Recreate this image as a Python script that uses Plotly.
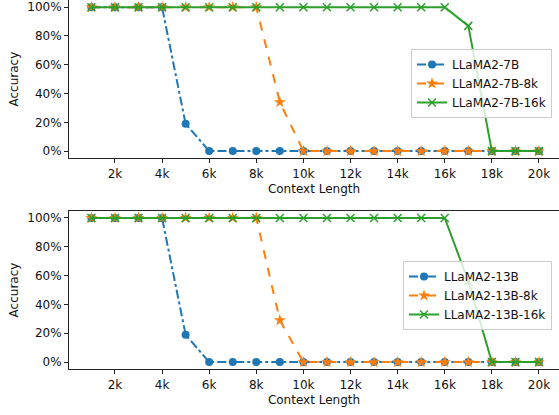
import plotly.graph_objects as go

context_k = list(range(1, 21))
context = [k * 1000 for k in context_k]

acc_7b = [100, 100, 100, 100, 19] + [0] * 15
acc_7b_8k = [100] * 8 + [34] + [0] * 11
acc_7b_16k = [100] * 16 + [87] + [0] * 3

acc_13b = [100, 100, 100, 100, 19] + [0] * 15
acc_13b_8k = [100] * 8 + [29] + [0] * 11
acc_13b_16k = [100] * 16 + [56] + [0] * 3

x_tick_vals = [2000, 4000, 6000, 8000, 10000, 12000, 14000, 16000, 18000, 20000]
x_tick_text = ["2k", "4k", "6k", "8k", "10k", "12k", "14k", "16k", "18k", "20k"]
y_tick_vals = [0, 20, 40, 60, 80, 100]
y_tick_text = ["0%", "20%", "40%", "60%", "80%", "100%"]

BLUE, ORANGE, GREEN = "#1f77b4", "#ff7f0e", "#2ca02c"
FONT = "DejaVu Sans"

series_top = [("LLaMA2-7B", acc_7b), ("LLaMA2-7B-8k", acc_7b_8k), ("LLaMA2-7B-16k", acc_7b_16k)]
series_bot = [("LLaMA2-13B", acc_13b), ("LLaMA2-13B-8k", acc_13b_8k), ("LLaMA2-13B-16k", acc_13b_16k)]
styles = [
    dict(color=BLUE, dash="dashdot", marker=dict(symbol="circle", size=8, color=BLUE)),
    dict(color=ORANGE, dash="dash", marker=dict(symbol="star", size=9, color=ORANGE)),
    dict(color=GREEN, dash="solid", marker=dict(symbol="x-thin", size=8, color=GREEN,
                                                line=dict(color=GREEN, width=1.5))),
]

fig = go.Figure()
for (xa, ya, leg, series) in [("x", "y", "legend", series_top), ("x2", "y2", "legend2", series_bot)]:
    for (name, vals), st in zip(series, styles):
        fig.add_trace(go.Scatter(
            x=context, y=vals, name=name, mode="lines+markers",
            line=dict(color=st["color"], dash=st["dash"], width=2),
            marker=st["marker"], xaxis=xa, yaxis=ya, legend=leg, cliponaxis=False,
        ))

W, H = 559, 415
top_dom = [1 - 158.3 / H, 1]
bot_dom = [1 - 369.3 / H, 1 - 210.7 / H]
xdom = [69 / W, 1]

xcommon = dict(
    range=[50, 20850], domain=xdom, tickvals=x_tick_vals, ticktext=x_tick_text,
    showline=True, linecolor="#222", linewidth=1, mirror=True, ticks="outside",
    ticklen=4, tickcolor="#222", showgrid=False, zeroline=False, automargin=False,
    tickfont=dict(family=FONT, size=12, color="#111"),
    title=dict(text="Context Length", font=dict(family=FONT, size=12, color="#111"), standoff=4),
)
ycommon = dict(
    range=[-5, 105], tickvals=y_tick_vals, ticktext=y_tick_text,
    showline=True, linecolor="#222", linewidth=1, ticks="outside", ticklen=4,
    tickcolor="#222", showgrid=False, zeroline=False, automargin=False,
    tickfont=dict(family=FONT, size=12, color="#111"),
    title=dict(text="Accuracy", font=dict(family=FONT, size=12, color="#111"), standoff=6),
)

legcommon = dict(
    xanchor="left", yanchor="top", bgcolor="rgba(255,255,255,0.8)",
    bordercolor="#cccccc", borderwidth=1, font=dict(family=FONT, size=12, color="#111"),
    tracegroupgap=0,
)

fig.update_layout(
    width=W, height=H, margin=dict(l=0, r=0, t=0, b=0),
    plot_bgcolor="white", paper_bgcolor="white",
    xaxis=dict(**xcommon, anchor="y"),
    yaxis=dict(**ycommon, domain=top_dom, anchor="x"),
    xaxis2=dict(**xcommon, anchor="y2"),
    yaxis2=dict(**ycommon, domain=bot_dom, anchor="x2"),
    legend=dict(**legcommon, x=411 / W, y=1 - 49 / H),
    legend2=dict(**legcommon, x=403 / W, y=1 - 261 / H),
    font=dict(family=FONT, size=12),
)

fig.write_html(
    "out.html",
    config={"displayModeBar": False},
    post_script="document.body.style.margin='0';document.body.style.overflow='hidden';",
)
